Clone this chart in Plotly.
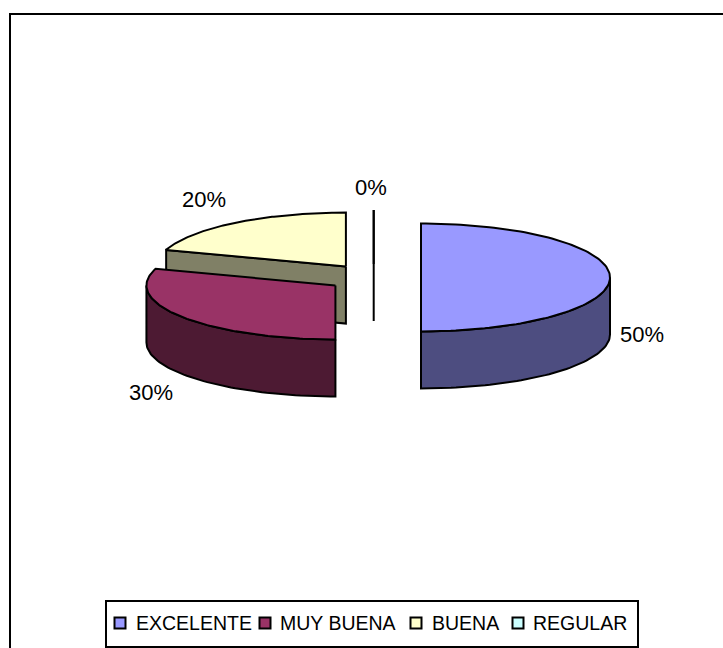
import numpy as np
import plotly.graph_objects as go

# Data
categories = ["EXCELENTE", "MUY BUENA", "BUENA", "REGULAR"]
shares = [50, 30, 20, 0]
top_colors = ["#9999FF", "#993366", "#FFFFCC", "#CCFFFF"]
side_colors = ["#4D4D80", "#4D1A33", "#808066", "#668080"]

# Pie geometry, in page pixels
base_x, base_y = 373.7, 277.5
rx, ry = 189, 54
depth = 57
explode = 47.3
font = "Liberation Sans, Arial, sans-serif"

label_pos = [(642, 334), (151, 392), (204, 199), (371, 187)]
swatch_x = [120, 265, 416, 518]
legend_text_x = [135, 279, 431, 532]
legend_y = 623


def rim(cx, cy, angle):
    # angle runs clockwise from 12 o'clock
    return cx + rx * np.sin(angle), cy - ry * np.cos(angle)


def add_poly(fig, xs, ys, color):
    fig.add_trace(go.Scatter(x=list(xs), y=list(ys), mode="lines", fill="toself",
                             fillcolor=color, line=dict(color="black", width=2),
                             hoverinfo="skip", showlegend=False))


fig = go.Figure()

total = sum(shares)
edges = np.cumsum([0] + shares) / total * 2 * np.pi

# back slices first so the nearer ones cover them
for i in reversed(range(len(shares))):
    a0, a1 = edges[i], edges[i + 1]
    mid = (a0 + a1) / 2
    cx = base_x + explode * np.sin(mid)
    cy = base_y - explode * ry / rx * np.cos(mid)

    # cut face on the starting side
    if np.sin(a0) < -1e-9 or abs(a0 - 2 * np.pi) < 1e-9:
        ex, ey = rim(cx, cy, a0)
        add_poly(fig, [cx, ex, ex, cx, cx], [cy, ey, ey + depth, cy + depth, cy], side_colors[i])

    # outer wall, only the part facing the viewer
    w0, w1 = max(a0, np.pi / 2), min(a1, 3 * np.pi / 2)
    if w1 > w0:
        t = np.linspace(w0, w1, 60)
        wx, wy = rim(cx, cy, t)
        add_poly(fig, np.r_[wx, wx[::-1], wx[0]], np.r_[wy, wy[::-1] + depth, wy[0]], side_colors[i])

    # top face
    t = np.linspace(a0, a1, 120)
    tx, ty = rim(cx, cy, t)
    add_poly(fig, np.r_[cx, tx, cx], np.r_[cy, ty, cy], top_colors[i])

# legend swatches
for i, name in enumerate(categories):
    fig.add_trace(go.Scatter(x=[swatch_x[i]], y=[legend_y], mode="markers",
                             marker=dict(symbol="square", size=11, color=top_colors[i],
                                         line=dict(color="black", width=2)),
                             name=name, hoverinfo="skip", showlegend=False))
    fig.add_annotation(x=legend_text_x[i], y=legend_y, text=name, showarrow=False,
                       xanchor="left", yanchor="middle", xshift=-1,
                       font=dict(family=font, size=19.5, color="black"))

for i, v in enumerate(shares):
    fig.add_annotation(x=label_pos[i][0], y=label_pos[i][1], text="%d%%" % v, showarrow=False,
                       font=dict(family=font, size=22, color="black"))

# outer frame runs off the page on the right and bottom, legend box
fig.add_shape(type="rect", x0=10, y0=14, x1=760, y1=700, line=dict(color="black", width=2), layer="below")
fig.add_shape(type="rect", x0=106, y0=601, x1=638, y1=647, line=dict(color="black", width=2),
              fillcolor="white", layer="below")

fig.update_xaxes(range=[0, 723], visible=False, fixedrange=True)
fig.update_yaxes(range=[648, 0], visible=False, fixedrange=True)
fig.update_layout(width=723, height=648, margin=dict(l=0, r=0, t=0, b=0),
                  paper_bgcolor="white", plot_bgcolor="white")
# page default margin would push the figure 8px in
fig.write_html("out.html", post_script="document.body.style.margin='0';document.body.style.overflow='hidden';",
               config=dict(displayModeBar=False))
